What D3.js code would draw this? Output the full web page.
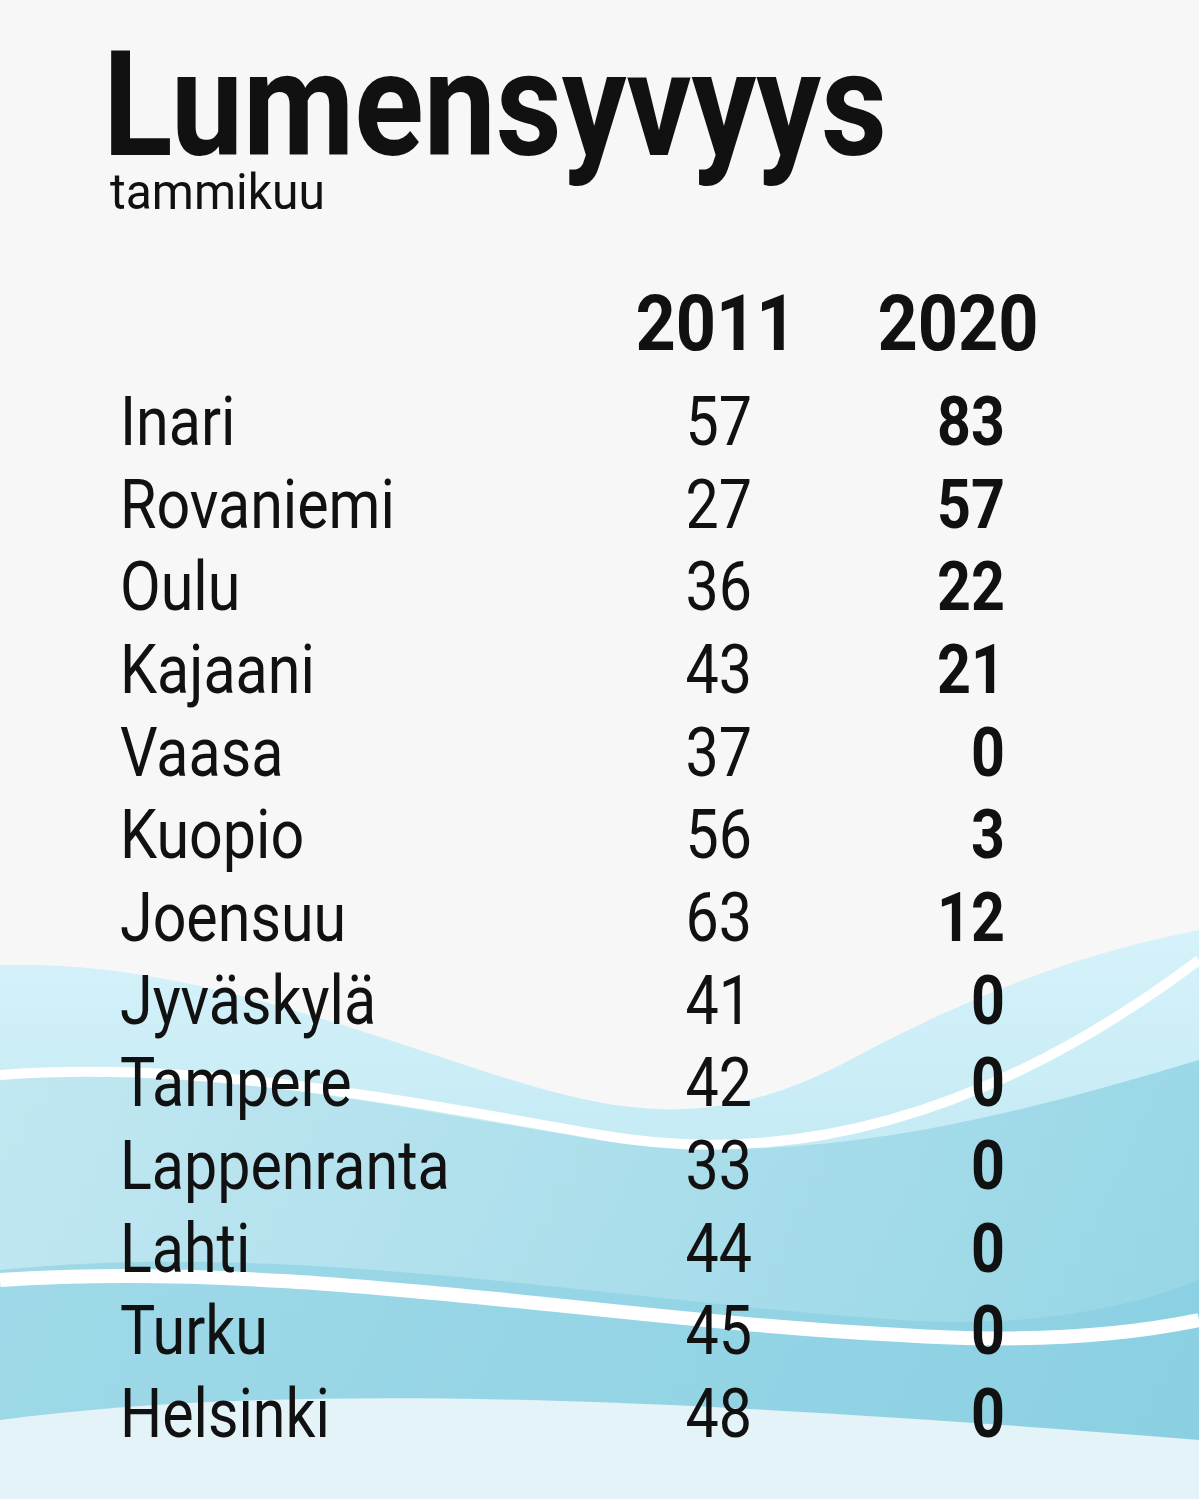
<!DOCTYPE html>
<html><head><meta charset="utf-8">
<script src="https://cdn.jsdelivr.net/npm/d3@7"></script>
<style>body{margin:0;background:#f7f7f7}</style></head>
<body><svg id="c" width="1199" height="1499"></svg>
<script>
const cities=["Inari","Rovaniemi","Oulu","Kajaani","Vaasa","Kuopio","Joensuu","Jyväskylä","Tampere","Lappenranta","Lahti","Turku","Helsinki"];
const v2011=[57,27,36,43,37,56,63,41,42,33,44,45,48];
const v2020=[83,57,22,21,0,3,12,0,0,0,0,0,0];
const years=["2011","2020"];
const svg=d3.select("#c");
svg.append("rect").attr("width",1199).attr("height",1499).attr("fill","#f7f7f7");
const defs=svg.append("defs");
const g1=defs.append("linearGradient").attr("id","w1").attr("x1",0).attr("y1",0).attr("x2",0).attr("y2",1);
g1.append("stop").attr("offset",0).attr("stop-color","#d6f2fa");
g1.append("stop").attr("offset",1).attr("stop-color","#a9dfec");
const g2=defs.append("linearGradient").attr("id","w2").attr("x1",0).attr("y1",0).attr("x2",1).attr("y2",0);
g2.append("stop").attr("offset",0).attr("stop-color","#bfe6f0");
g2.append("stop").attr("offset",1).attr("stop-color","#8fd2e3");
svg.append("path").attr("fill","url(#w1)").attr("d","M0,965 C150,960 300,1010 450,1060 C600,1110 700,1140 850,1060 C1000,980 1100,950 1199,930 L1199,1499 L0,1499Z");
svg.append("path").attr("fill","url(#w2)").attr("d","M0,1080 C200,1060 400,1110 600,1140 C800,1170 1000,1120 1199,1060 L1199,1499 L0,1499Z").attr("opacity",0.8);
svg.append("path").attr("fill","none").attr("stroke","#fff").attr("stroke-width",10).attr("d","M0,1075 C200,1060 400,1100 600,1135 C800,1170 1000,1110 1199,960");
svg.append("path").attr("fill","#7fcbe0").attr("opacity",0.5).attr("d","M0,1270 C300,1240 600,1300 900,1320 C1050,1330 1150,1300 1199,1280 L1199,1499 L0,1499Z");
svg.append("path").attr("fill","none").attr("stroke","#fff").attr("stroke-width",14).attr("d","M0,1280 C300,1260 600,1320 900,1335 C1050,1345 1150,1330 1199,1320");
svg.append("path").attr("fill","#e3f3f8").attr("d","M0,1420 C300,1380 700,1400 1199,1440 L1199,1499 L0,1499Z");
function t(x,y,str,size,weight,anchor,sx){
  return svg.append("text").attr("transform",`translate(${x},${y}) scale(${sx||0.86},1)`)
   .attr("font-family","Roboto").attr("font-size",size).attr("font-weight",weight)
   .attr("text-anchor",anchor||"start").attr("fill","#111").text(str);
}
t(103,155,"Lumensyvyys",146,700,"start",0.8).attr("textLength",980).attr("lengthAdjust","spacingAndGlyphs");
t(110,209,"tammikuu",50,400,"start",0.96);
const xcol=d3.scalePoint().domain(years).range([716,958]);
years.forEach(y=>t(xcol(y),350,y,78,700,"middle",0.9));
const yr=d3.scalePoint().domain(cities).range([445,1437]);
cities.forEach((c,i)=>{
  t(120,yr(c),c,68,400,"start",0.87);
  t(752,yr(c),v2011[i],68,400,"end",0.87);
  t(1005,yr(c),v2020[i],68,700,"end",0.87);
});
</script></body></html>
